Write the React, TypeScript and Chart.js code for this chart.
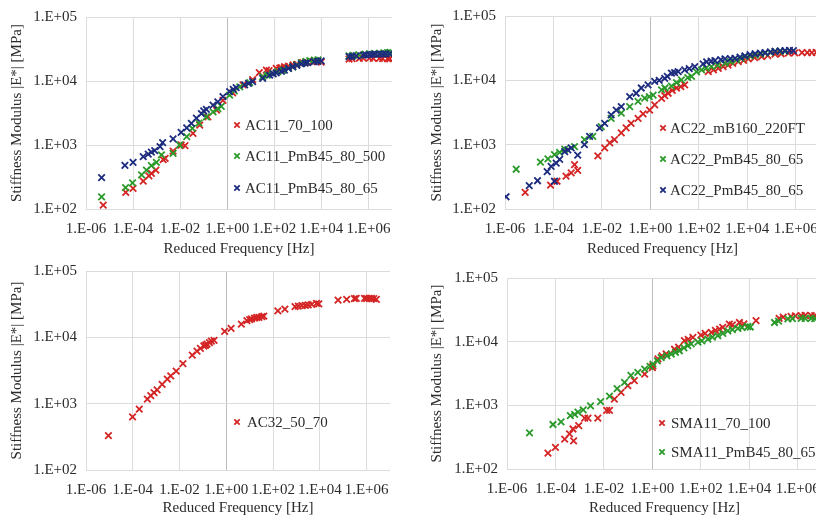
import React, { useEffect, useRef } from "react";
import { Chart, registerables } from "chart.js";

Chart.register(...registerables);

const FONT = "'Liberation Serif', 'Times New Roman', serif";
const TEXT = "#2b2b2b";
const RED = "#d42424";
const GREEN = "#2a9a2a";
const BLUE = "#1c2b7e";

const X_TICKS = [1e-6, 1e-4, 1e-2, 1e0, 1e2, 1e4, 1e6];
const Y_TICKS = [1e2, 1e3, 1e4, 1e5];
const X_TITLE = "Reduced Frequency [Hz]";
const Y_TITLE = "Stiffness Modulus |E*| [MPa]";

// ---- Panel 1 ----
const ac11_70_100_f = [5.4e-6, 4.9e-5, 1.0e-4, 2.7e-4, 4.7e-4, 6.0e-4, 9.3e-4, 1.9e-3, 2.3e-3, 5.0e-3, 1.1e-2, 1.6e-2, 3.5e-2, 6.8e-2, 0.15, 0.35, 0.66, 1.7, 4.7, 12, 23, 46, 120, 270, 620, 1600, 4300, 9800, 1.5e5, 4.1e5, 1.1e6, 2.9e6, 6.5e6, 2e5, 6e5, 1.6e6, 4e6, 8e6, 200, 400, 900, 2200, 6500, 60, 170];
const ac11_70_100_E = [115, 182, 210, 273, 330, 360, 405, 590, 620, 800, 1000, 980, 1520, 2040, 2760, 3500, 5000, 6500, 8700, 10500, 13500, 14800, 15800, 16700, 17800, 19400, 20000, 19800, 22000, 22500, 22700, 22500, 22300, 22300, 22800, 22600, 22400, 22200, 16200, 17000, 18200, 19600, 20100, 14500, 15900];
const ac11_500_f = [4.6e-6, 4.8e-5, 9.5e-5, 2.3e-4, 3.7e-4, 6.0e-4, 9.8e-4, 1.6e-3, 5.0e-3, 9.5e-3, 1.9e-2, 3.3e-2, 6.3e-2, 0.13, 0.25, 0.56, 1.26, 3.4, 9, 32, 87, 230, 610, 1400, 3200, 7200, 1.5e5, 4e5, 1.1e6, 2.9e6, 6.5e6, 2.2e5, 7e5, 1.8e6, 4.5e6, 8.5e6, 50, 140, 400, 900, 2200, 5000, 0.4, 2];
const ac11_500_E = [155, 215, 255, 340, 405, 475, 535, 700, 740, 1000, 1350, 1820, 2200, 2760, 3300, 4000, 6000, 8100, 9400, 11700, 13200, 14800, 16700, 19400, 20800, 21400, 24600, 25600, 26600, 27100, 27800, 25200, 26200, 26900, 27500, 28000, 12400, 14000, 15700, 17800, 20200, 21200, 3700, 7000];
const ac11_65_f = [4.6e-6, 4.5e-5, 1.0e-4, 2.7e-4, 4.4e-4, 6.0e-4, 8.3e-4, 1.4e-3, 1.8e-3, 5.0e-3, 1.1e-2, 1.9e-2, 3.0e-2, 4.9e-2, 8.0e-2, 0.13, 0.25, 0.66, 1.26, 2.4, 5.5, 12, 32, 63, 120, 270, 610, 1400, 2600, 5000, 9800, 1.5e5, 3e5, 7.8e5, 1.5e6, 2.9e6, 5.5e6, 2e5, 6e5, 1.1e6, 2e6, 4e6, 8e6, 90, 200, 400, 900, 2000, 7000, 0.1, 0.4, 1.8, 8];
const ac11_65_E = [310, 480, 535, 660, 720, 775, 820, 940, 1090, 1250, 1580, 1850, 2180, 2620, 3100, 3600, 4200, 5700, 6800, 7900, 8700, 9800, 11000, 12400, 13400, 14800, 16700, 18500, 19400, 20000, 20600, 24000, 24600, 25600, 26000, 26300, 26500, 24300, 25300, 25800, 26200, 26400, 26600, 12900, 14200, 15800, 17500, 19000, 20300, 3400, 4700, 7400, 9200];

// ---- Panel 2 ----
const ac22_mb_f = [6.8e-6, 7.6e-5, 1.4e-4, 3.3e-4, 5.4e-4, 7.4e-4, 1.0e-3, 6.8e-3, 1.3e-2, 2.1e-2, 3.3e-2, 6.3e-2, 0.10, 0.16, 0.31, 0.93, 1.5, 2.9, 5.4, 12, 26, 245, 630, 1600, 4200, 1.1e4, 3.9e4, 1.4e5, 5e5, 1.8e6, 4.6e6, 400, 1000, 2500, 7000, 2e4, 7e4, 2.5e5, 9e5, 3e6, 7e6, 0.5, 3.9, 8, 18];
const ac22_mb_E = [182, 235, 270, 325, 365, 490, 400, 670, 890, 1070, 1200, 1520, 1820, 2140, 2560, 3450, 4150, 5250, 6300, 7600, 8500, 13700, 15300, 17300, 19500, 21500, 23400, 25500, 26500, 27000, 27000, 14500, 16300, 18400, 20500, 22500, 24300, 25900, 26700, 27000, 27200, 3000, 5800, 7000, 8000];
const ac22_g_f = [2.9e-6, 2.9e-5, 5.9e-5, 1.1e-4, 1.8e-4, 2.9e-4, 7.4e-4, 1.9e-3, 4.2e-3, 9.4e-3, 2.4e-2, 6.3e-2, 0.14, 0.31, 0.58, 1.3, 2.9, 7.4, 19, 50, 130, 330, 1200, 3600, 8000, 2.1e4, 5.4e4, 1.4e5, 3.6e5, 200, 600, 2000, 5500, 1.3e4, 3.5e4, 9e4, 2.2e5, 0.9, 4, 12, 35, 80];
const ac22_g_E = [415, 535, 600, 700, 760, 850, 930, 1200, 1350, 1900, 2570, 3100, 3900, 4700, 5300, 5900, 7100, 8100, 10200, 11500, 14500, 16300, 18500, 20800, 23400, 24600, 26400, 28100, 28100, 15500, 17300, 19500, 22000, 24000, 25600, 27200, 28100, 5600, 7600, 9200, 11000, 13500];
const ac22_b_f = [1.1e-6, 1.0e-5, 2.2e-5, 5.5e-5, 8e-5, 1.1e-4, 1.3e-4, 1.8e-4, 2.9e-4, 3.9e-4, 5.4e-4, 1.0e-3, 1.9e-3, 3.1e-3, 8e-3, 1.3e-2, 2.4e-2, 3.9e-2, 6.3e-2, 0.14, 0.26, 0.42, 0.80, 1.5, 3.9, 7.4, 14, 26, 68, 210, 460, 1200, 3100, 8000, 2.1e4, 5.4e4, 1.4e5, 3.6e5, 8e5, 150, 320, 800, 2000, 5000, 1.3e4, 3.5e4, 9e4, 2.3e5, 5.5e5, 2.3, 5, 10, 40];
const ac22_b_E = [155, 230, 275, 380, 460, 270, 515, 590, 780, 830, 890, 690, 1000, 1350, 1820, 2150, 2900, 3450, 3900, 5600, 6300, 7600, 8500, 9600, 10700, 12900, 13700, 14500, 16300, 19400, 20300, 21500, 22000, 24000, 25900, 27000, 28100, 29000, 29000, 18000, 19800, 20900, 21800, 23000, 25000, 26500, 27600, 28600, 29200, 10000, 11500, 13200, 15200];

// ---- Panel 3 ----
const ac32_f = [9.1e-6, 9.8e-5, 1.9e-4, 4.2e-4, 5.9e-4, 8.1e-4, 1.1e-3, 1.8e-3, 3.0e-3, 4.2e-3, 7.2e-3, 1.4e-2, 3.5e-2, 5.6e-2, 7.8e-2, 0.11, 0.15, 0.23, 0.85, 1.6, 4.4, 7.6, 12, 20, 33, 160, 320, 870, 1700, 3200, 7200, 6e4, 1.4e5, 3.6e5, 8.1e5, 1.6e6, 2.6e6, 0.13, 0.19, 0.3, 10, 16, 25, 40, 1200, 2400, 4500, 9000, 1e6, 1.3e6, 2e6, 3e5];
const ac32_E = [330, 630, 830, 1170, 1320, 1470, 1610, 1950, 2350, 2620, 3100, 4000, 5400, 6200, 6800, 7400, 7900, 8800, 12300, 13700, 15800, 17800, 19000, 19900, 20500, 25000, 26700, 29000, 30100, 30800, 32600, 36500, 37300, 38700, 38700, 38700, 37300, 7600, 8300, 9000, 18500, 19500, 20000, 20800, 29500, 30400, 31400, 32000, 38500, 38700, 38200, 38200];

// ---- Panel 4 ----
const sma_70_f = [4.9e-5, 1.0e-4, 2.4e-4, 3.8e-4, 5.3e-4, 5.6e-4, 9.1e-4, 1.6e-3, 2.2e-3, 5.6e-3, 1.3e-2, 1.7e-2, 2.7e-2, 5.1e-2, 9.7e-2, 0.18, 0.48, 1.05, 1.7, 3.7, 8.2, 21, 47, 100, 270, 590, 1500, 3900, 1.9e4, 1.7e5, 5.3e5, 1.4e6, 3.6e6, 150, 400, 800, 2000, 6000, 2.5e5, 8e5, 2e6, 5e6, 1, 2.5, 12, 30];
const sma_70_E = [178, 218, 295, 355, 425, 277, 480, 630, 630, 630, 830, 830, 1250, 1600, 2040, 2440, 3100, 4170, 5350, 6400, 7600, 10400, 11700, 12700, 14000, 15800, 18900, 20000, 21400, 23300, 25000, 25700, 25700, 13500, 15000, 16800, 18400, 19000, 24300, 25500, 25800, 25600, 3900, 6000, 8200, 10900];
const sma_65_f = [8.5e-6, 7.9e-5, 1.7e-4, 4.1e-4, 6.2e-4, 8.5e-4, 1.4e-3, 2.8e-3, 7.3e-3, 1.7e-2, 3.5e-2, 7.1e-2, 0.13, 0.25, 0.48, 1.05, 2.3, 6, 13, 29, 76, 195, 500, 1300, 3400, 8700, 1.1e5, 3.9e5, 1.4e6, 3.6e6, 40, 110, 300, 800, 2000, 5000, 1.1e4, 1.6e5, 6e5, 2e6, 5e6, 0.8, 1.6, 4, 9, 20];
const sma_65_E = [370, 500, 550, 690, 720, 780, 850, 980, 1140, 1400, 1830, 2300, 2950, 3300, 3700, 4450, 5600, 6400, 7200, 8700, 9800, 11000, 12400, 14800, 16200, 17300, 20000, 22800, 23300, 23300, 9200, 10300, 11800, 13500, 15500, 16700, 17000, 21000, 23000, 23300, 23000, 4100, 5000, 6000, 6800, 8000];

type Series = { label: string; f: number[]; e: number[]; color: string };
type Panel = {
  left: number; top: number; width: number; height: number;
  area: { l: number; t: number; r: number; b: number };
  yTitlePad: number;
  legend: { mx: number; tx: number; ys: number[] };
  series: Series[];
};

const PANELS: Panel[] = [
  {
    left: 0, top: 0, width: 408, height: 259,
    area: { l: 86, t: 17, r: 392, b: 209 }, yTitlePad: 8,
    legend: { mx: 237, tx: 245, ys: [125, 156, 188] },
    series: [
      { label: "AC11_70_100", f: ac11_70_100_f, e: ac11_70_100_E, color: RED },
      { label: "AC11_PmB45_80_500", f: ac11_500_f, e: ac11_500_E, color: GREEN },
      { label: "AC11_PmB45_80_65", f: ac11_65_f, e: ac11_65_E, color: BLUE },
    ],
  },
  {
    left: 408, top: 0, width: 432, height: 259,
    area: { l: 97, t: 16, r: 412, b: 209 }, yTitlePad: 20,
    legend: { mx: 255, tx: 262, ys: [128, 159, 190] },
    series: [
      { label: "AC22_mB160_220FT", f: ac22_mb_f, e: ac22_mb_E, color: RED },
      { label: "AC22_PmB45_80_65", f: ac22_g_f, e: ac22_g_E, color: GREEN },
      { label: "AC22_PmB45_80_65", f: ac22_b_f, e: ac22_b_E, color: BLUE },
    ],
  },
  {
    left: 0, top: 259, width: 408, height: 259,
    area: { l: 86, t: 12, r: 390, b: 211 }, yTitlePad: 8,
    legend: { mx: 237, tx: 247, ys: [163] },
    series: [{ label: "AC32_50_70", f: ac32_f, e: ac32_E, color: RED }],
  },
  {
    left: 408, top: 259, width: 432, height: 259,
    area: { l: 99, t: 19, r: 414, b: 210 }, yTitlePad: 20,
    legend: { mx: 254, tx: 263, ys: [164, 193] },
    series: [
      { label: "SMA11_70_100", f: sma_70_f, e: sma_70_E, color: RED },
      { label: "SMA11_PmB45_80_65", f: sma_65_f, e: sma_65_E, color: GREEN },
    ],
  },
];

const fmt = (v: number) => {
  const e = Math.round(Math.log10(v));
  return `1.E${e < 0 ? "-" : "+"}${String(Math.abs(e)).padStart(2, "0")}`;
};

const inlineLegend = {
  id: "inlineLegend",
  afterDraw(chart: any, _args: any, opts: any) {
    const { ctx } = chart;
    const ys: number[] = opts.ys;
    chart.data.datasets.forEach((ds: any, i: number) => {
      const y = ys[i];
      const mx = opts.mx;
      const h = 2.7;
      ctx.save();
      ctx.strokeStyle = ds.borderColor;
      ctx.lineWidth = 1.8;
      ctx.beginPath();
      ctx.moveTo(mx - h, y - h);
      ctx.lineTo(mx + h, y + h);
      ctx.moveTo(mx - h, y + h);
      ctx.lineTo(mx + h, y - h);
      ctx.stroke();
      ctx.fillStyle = TEXT;
      ctx.font = `15px ${FONT}`;
      ctx.textBaseline = "middle";
      ctx.textAlign = "left";
      ctx.fillText(ds.label, opts.tx, y + 1);
      ctx.restore();
    });
  },
};

function PanelChart({ p }: { p: Panel }) {
  const ref = useRef<HTMLCanvasElement>(null);
  useEffect(() => {
    if (!ref.current) return;
    const font = { family: FONT, size: 15 };
    const n = p.series.length;
    const chart = new Chart(ref.current, {
      type: "scatter",
      data: {
        datasets: p.series.map((s, i) => ({
          label: s.label,
          data: s.f.map((x, j) => ({ x, y: s.e[j] })),
          pointStyle: "crossRot",
          pointRadius: 4.6,
          pointBorderWidth: 1.8,
          borderColor: s.color,
          backgroundColor: s.color,
          showLine: false,
          order: n - i,
        })),
      },
      options: {
        animation: false,
        responsive: false,
        devicePixelRatio: 1,
        events: [],
        layout: { padding: { left: 0, top: p.area.t, right: p.width - p.area.r, bottom: 0 } },
        plugins: {
          legend: { display: false },
          tooltip: { enabled: false },
          inlineLegend: p.legend,
        } as any,
        scales: {
          x: {
            type: "logarithmic",
            position: "bottom",
            min: 1e-6,
            max: 1e7,
            afterBuildTicks: (s: any) => { s.ticks = X_TICKS.map((value) => ({ value })); },
            afterFit: (s: any) => {
              s.height = p.height - p.area.b;
              s.paddingLeft = 0; s.paddingRight = 0; s.paddingTop = 0; s.paddingBottom = 0;
            },
            ticks: { callback: (v: any) => fmt(Number(v)), font, color: TEXT, padding: 11, maxRotation: 0, autoSkip: false },
            grid: {
              color: (c: any) => (c.tick && Math.abs(c.tick.value - 1) < 1e-9 ? "#bcbcbc" : "#dcdcdc"),
              drawTicks: false,
              lineWidth: 1,
            },
            border: { display: false },
            title: { display: true, text: X_TITLE, font, color: TEXT, padding: { top: 0, bottom: 1 } },
          },
          y: {
            type: "logarithmic",
            position: "left",
            min: 1e2,
            max: 1e5,
            afterBuildTicks: (s: any) => { s.ticks = Y_TICKS.map((value) => ({ value })); },
            afterFit: (s: any) => {
              s.width = p.area.l;
              s.paddingLeft = 0; s.paddingRight = 0; s.paddingTop = 0; s.paddingBottom = 0;
            },
            ticks: { callback: (v: any) => fmt(Number(v)), font, color: TEXT, padding: 9, autoSkip: false },
            grid: { color: "#dcdcdc", drawTicks: false, lineWidth: 1 },
            border: { display: false },
            title: { display: true, text: Y_TITLE, font, color: TEXT, padding: { top: p.yTitlePad, bottom: 0 } },
          },
        },
      } as any,
      plugins: [inlineLegend],
    });
    return () => chart.destroy();
  }, [p]);
  return (
    <canvas
      ref={ref}
      width={p.width}
      height={p.height}
      style={{ position: "absolute", left: p.left, top: p.top, width: p.width, height: p.height, display: "block" }}
    />
  );
}

export default function App() {
  return (
    <div style={{ position: "absolute", left: 0, top: 0, width: 816, height: 518, overflow: "hidden", background: "#fff" }}>
      {PANELS.map((p, i) => (
        <PanelChart key={i} p={p} />
      ))}
    </div>
  );
}
